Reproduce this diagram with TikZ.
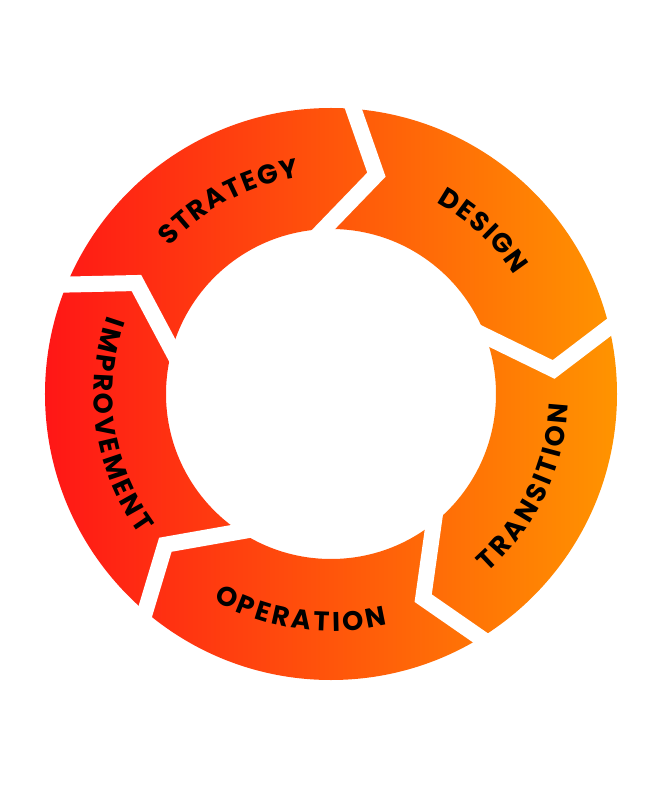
\documentclass[tikz,border=0pt]{standalone}
\usepackage{fontspec}
\newfontfamily\lblfont{Poppins}
\usetikzlibrary{calc}
\definecolor{ringL}{RGB}{255,22,22}
\definecolor{ringR}{RGB}{255,148,0}
\newcommand\lblstyle{\lblfont\bfseries\fontsize{27}{27}\selectfont}
\newcommand\awRc{228}
\newcommand\awCap{18.5}
\newcommand\awTrk{2.3}
\newlength\awLen
% measure the letters of a word (outside the picture): #1 name, #2 letters
\newcommand\measureword[2]{%
  \xdef\awTot{0}%
  \foreach \L [count=\i] in {#2}{%
    \settowidth{\awLen}{\lblstyle\L}%
    \pgfmathsetmacro\awWv{\awLen}%
    \expandafter\xdef\csname aw#1w\i\endcsname{\awWv}%
    \pgfmathsetmacro\awTmp{\awTot+\awWv+\awTrk}%
    \xdef\awTot{\awTmp}%
  }%
  \pgfmathsetmacro\awTmp{\awTot-\awTrk}%
  \expandafter\xdef\csname aw#1tot\endcsname{\awTmp}%
}
% #1 letters, #2 centre angle, #3 direction (1 = clockwise, tops out; -1 = counter-clockwise, tops in), #4 name
\newcommand\arcword[4]{%
  \pgfmathsetmacro\awTmp{-\csname aw#4tot\endcsname/2}%
  \xdef\awPos{\awTmp}%
  \foreach \L [count=\i] in {#1}{%
    \edef\awWv{\csname aw#4w\i\endcsname}%
    \pgfmathsetmacro\awMid{\awPos+\awWv/2}%
    \pgfmathsetmacro\awAng{#2-(#3)*\awMid/\awRc*57.29578}%
    \pgfmathsetmacro\awRot{\awAng-(#3)*90}%
    \pgfmathsetmacro\awRb{\awRc-(#3)*\awCap/2}%
    \node[lbl, rotate=\awRot] (#4\i) at (\awAng:\awRb) {\L};%
    \pgfmathsetmacro\awTmp{\awPos+\awWv+\awTrk}%
    \xdef\awPos{\awTmp}%
  }%
}
\begin{document}%
\measureword{st}{S,T,R,A,T,E,G,Y}%
\measureword{de}{D,E,S,I,G,N}%
\measureword{tr}{T,R,A,N,S,I,T,I,O,N}%
\measureword{op}{O,P,E,R,A,T,I,O,N}%
\measureword{im}{I,M,P,R,O,V,E,M,E,N,T}%
\begin{tikzpicture}[x=1pt,y=1pt,
  lbl/.style={inner sep=0pt, anchor=base, font=\lblstyle, text=black},
  gapline/.style={draw=white, line width=16pt, line join=miter, line cap=butt}]
\useasboundingbox (-331,-406) rectangle (334,394);
\fill[white] (-331,-406) rectangle (334,394);
\coordinate (c) at (0,0);
\shade[even odd rule, left color=ringL, right color=ringR] (c) circle (286) (c) circle (165);
\foreach \k in {0,...,4}{
  \pgfmathsetmacro\th{13.5+72*\k}
  \pgfmathsetmacro\tht{\th-7.2}
  \pgfmathsetmacro\thi{\th+7}
  \coordinate (go\k) at (\th:286);
  \coordinate (gt\k) at (\tht:224);
  \coordinate (gi\k) at (\thi:165);
  \draw[gapline] ($(gt\k)!1.4!(go\k)$) -- (gt\k) -- ($(gt\k)!1.4!(gi\k)$);
}
\arcword{S,T,R,A,T,E,G,Y}{118}{1}{st}
\arcword{D,E,S,I,G,N}{47}{1}{de}
\arcword{T,R,A,N,S,I,T,I,O,N}{-25.5}{-1}{tr}
\arcword{O,P,E,R,A,T,I,O,N}{262}{-1}{op}
\arcword{I,M,P,R,O,V,E,M,E,N,T}{188.5}{-1}{im}
\end{tikzpicture}
\end{document}
